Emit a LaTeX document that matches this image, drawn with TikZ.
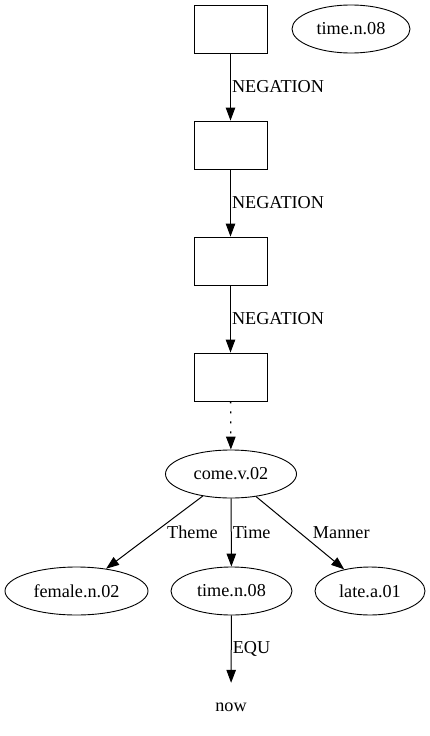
\documentclass[tikz,border=0pt]{standalone}
\usepackage{fontspec}
\setmainfont{Liberation Serif}
\usetikzlibrary{shapes.geometric,arrows.meta,positioning}

\begin{document}
\begin{tikzpicture}[x=1pt,y=-1pt,
		font=\fontsize{18.2}{20}\selectfont,
		drsbox/.style={draw, line width=0.9pt, minimum width=73pt, minimum height=48pt, inner sep=0pt},
		synset/.style={draw, ellipse, line width=0.9pt, minimum height=48pt, inner sep=0pt},
		rel/.style={-{Triangle[length=13pt,width=9.5pt]}, line width=1pt},
		lbl/.style={midway, right, inner sep=1pt}]
				\useasboundingbox (0,0) rectangle (430,736);
				% negation boxes
				\node[drsbox] (box1) at (230.5,29) {};
				\node[drsbox] (box2) at (230.5,145) {};
				\node[drsbox] (box3) at (230.5,261) {};
				\node[drsbox] (box4) at (230.5,377) {};
				\node[synset, minimum width=118pt] (timetop) at (351,29) {time.n.08};
				% synsets
				\node[synset, minimum width=131pt] (come) at (231,474) {come.v.02};
				\node[synset, minimum width=143pt] (female) at (76.5,591) {female.n.02};
				\node[synset, minimum width=121pt] (time) at (231.5,591) {time.n.08};
				\node[synset, minimum width=110pt] (late) at (370,591) {late.a.01};
				\node[minimum height=48pt, inner sep=0pt] (now) at (231,707) {now};
				% edges
				\draw[rel] (box1) -- (box2) node[lbl] {NEGATION};
				\draw[rel] (box2) -- (box3) node[lbl] {NEGATION};
				\draw[rel] (box3) -- (box4) node[lbl] {NEGATION};
				\draw[rel, line width=1.3pt, dash pattern=on 2pt off 8pt] (box4) -- (come);
				\draw[rel] (come.218) -- (female.37) node[midway, right=9pt] {Theme};
				\draw[rel] (come) -- (time) node[lbl] {Time};
				\draw[rel] (come.318) -- (late.140) node[midway, right=9pt] {Manner};
				\draw[rel] (time) -- (now) node[lbl] {EQU};
			\end{tikzpicture}
\end{document}
